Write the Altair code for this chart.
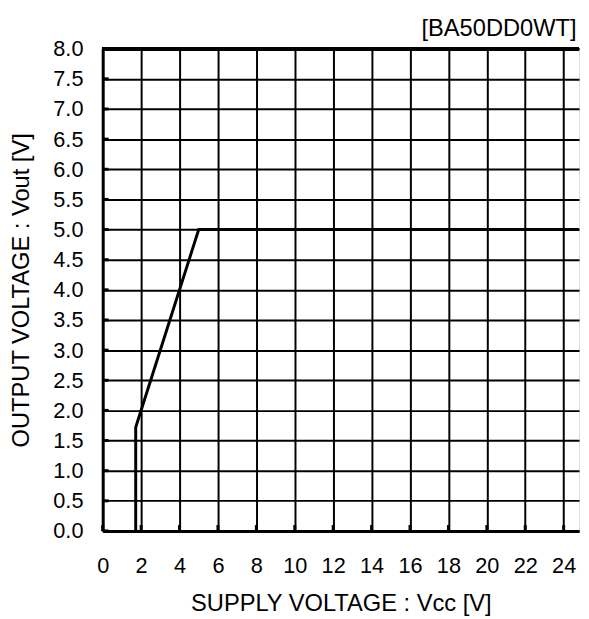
import altair as alt
import pandas as pd

vcc = [1.72, 1.72, 5.0, 25.0]
vout = [0.0, 1.72, 5.0, 5.0]
x_ticks = list(range(0, 26, 2))
y_ticks = [i * 0.5 for i in range(17)]

FONT = "Liberation Sans"
W, H = 483, 489
XMAX = 24.8

curve = pd.DataFrame({"vcc": vcc, "vout": vout})
xt = pd.DataFrame({"x": x_ticks})
yt = pd.DataFrame({"y": y_ticks})

xs = alt.Scale(domain=[0, XMAX], nice=False, zero=False)
ys = alt.Scale(domain=[0, 8], nice=False)

line = alt.Chart(curve).mark_line(color="black", strokeWidth=3, clip=True).encode(
    x=alt.X("vcc:Q", scale=xs, title="SUPPLY VOLTAGE  : Vcc [V]",
            axis=alt.Axis(values=x_ticks, tickCount=40, format="d", grid=True,
                          gridColor="black", gridWidth=2, gridOpacity=1,
                          domainColor="black", domainWidth=3,
                          ticks=False, labelFont=FONT, labelFontSize=22, labelColor="black",
                          labelPadding=25, labelOverlap=False, titleFont=FONT,
                          titleFontSize=24, titleFontWeight="normal", titleColor="black",
                          titlePadding=16, labelFlush=False)),
    y=alt.Y("vout:Q", scale=ys, title="OUTPUT VOLTAGE  : Vout [V]",
            axis=alt.Axis(values=y_ticks, tickCount=40, format=".1f", grid=True,
                          gridColor="black", gridWidth=2, gridOpacity=1,
                          domainColor="black", domainWidth=3,
                          ticks=False, labelFont=FONT, labelFontSize=22, labelColor="black",
                          labelPadding=20, labelOverlap=False, titleFont=FONT,
                          titleFontSize=24, titleFontWeight="normal", titleColor="black",
                          titlePadding=20, labelFlush=False)),
    order=alt.Order("vcc:Q"),
)

top = alt.Chart(xt).mark_rule(color="black", strokeWidth=3).encode(y=alt.datum(8, scale=ys))

ystubs = alt.Chart(yt).mark_rule(color="black", strokeWidth=3).encode(
    y=alt.Y("y:Q", scale=ys), x=alt.value(0), x2=alt.value(6))
xstubs = alt.Chart(xt).mark_rule(color="black", strokeWidth=3).encode(
    x=alt.X("x:Q", scale=xs), y=alt.value(H), y2=alt.value(H - 6))

chart = alt.layer(ystubs, xstubs, line, top).properties(
    width=W, height=H,
    autosize=alt.AutoSizeParams(type="none"),
    padding={"left": 96, "top": 37, "right": 2, "bottom": 85},
    title=alt.TitleParams("[BA50DD0WT]", anchor="end", font=FONT, fontSize=24,
                          fontWeight="normal", color="black", offset=-3, dx=-4),
).configure_view(stroke=None).configure(background="white")

chart.save("out.html", embed_options={"renderer": "svg", "actions": False})
